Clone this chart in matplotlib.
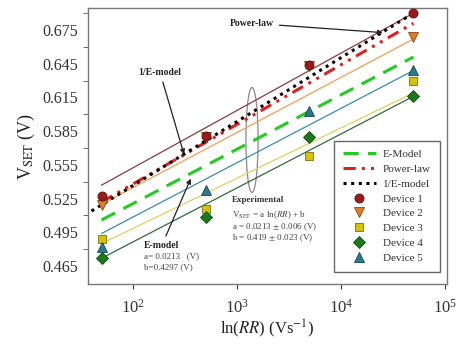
import matplotlib.pyplot as plt
from matplotlib.patches import Ellipse

plt.rcParams['font.family'] = ['Liberation Serif', 'DejaVu Serif']
plt.rcParams['mathtext.fontset'] = 'stix'

# ramp rate (V/s) and measured set voltages
rr = [50, 500, 5000, 50000]
dev1 = [0.527, 0.581, 0.644, 0.690]
dev2 = [0.519, 0.580, 0.643, 0.669]
dev3 = [0.489, 0.516, 0.563, 0.630]
dev4 = [0.472, 0.509, 0.580, 0.616]
dev5 = [0.482, 0.533, 0.603, 0.639]

# linear fits in ln(RR) for each device (end points)
fit_x = [50, 50000]
fit1 = [0.537, 0.690]
fit2 = [0.520, 0.667]
fit3 = [0.485, 0.619]
fit4 = [0.472, 0.616]
fit5 = [0.494, 0.639]

# model curves
emodel_x = [50, 50000]
emodel = [0.506, 0.651]
power_x = [50, 50000]
power = [0.522, 0.681]
inve_x = [40, 50000]
inve = [0.514, 0.690]

fig = plt.figure(figsize=(4.69, 3.46), dpi=100)
ax = fig.add_axes([0.1876, 0.179, 0.7654, 0.798])

ax.plot(fit_x, fit1, color='#8b3a3a', lw=0.9)
ax.plot(fit_x, fit2, color='#f0a050', lw=0.9)
ax.plot(fit_x, fit3, color='#e0d060', lw=0.9)
ax.plot(fit_x, fit4, color='#2e6b3a', lw=0.9)
ax.plot(fit_x, fit5, color='#3a8ab0', lw=0.9)

l1, = ax.plot(emodel_x, emodel, color='#22cc22', lw=2.2, ls=(0, (5, 3)), label='E-Model')
l2, = ax.plot(power_x, power, color='#e02020', lw=2.2, ls=(0, (4, 2, 1, 2, 1, 2)), label='Power-law')
l3, = ax.plot(inve_x, inve, color='black', lw=2.2, ls=(0, (1, 1.5)), label='1/E-model')

ms = 6.5
m1, = ax.plot(rr, dev1, 'o', color='#9b1b1b', mec='#5a0f0f', mew=0.6, ms=ms, ls='none',
              label='Device 1', zorder=4)
m2, = ax.plot(rr, dev2, 'v', color='#e07b28', mec='#8a4a10', mew=0.6, ms=ms, ls='none',
              label='Device 2', zorder=3)
m3, = ax.plot(rr, dev3, 's', color='#d4c400', mec='#7a7010', mew=0.6, ms=ms - 0.5, ls='none',
              label='Device 3', zorder=3)
m4, = ax.plot(rr, dev4, 'D', color='#1a7a1a', mec='#0f4a0f', mew=0.6, ms=ms - 0.5, ls='none',
              label='Device 4', zorder=3)
m5, = ax.plot(rr, dev5, '^', color='#2a7a8a', mec='#15454f', mew=0.6, ms=ms, ls='none',
              label='Device 5', zorder=3)

ax.set_xscale('log')
ax.set_xlim(37, 1.05e5)
ax.set_ylim(0.449, 0.6946)
ax.set_yticks([0.465, 0.495, 0.525, 0.555, 0.585, 0.615, 0.645, 0.675])
ax.set_yticklabels(['0.465', '0.495', '0.525', '0.555', '0.585', '0.615', '0.645', '0.675'])
ax.set_yticks([0.48, 0.51, 0.54, 0.57, 0.60, 0.63, 0.66, 0.69], minor=True)
ax.tick_params(axis='y', which='major', length=0, labelsize=11.5, pad=7, colors='#333333')
ax.tick_params(axis='y', which='minor', length=3.5, direction='out', color='#555555')
ax.tick_params(axis='x', which='major', length=3.5, direction='out', labelsize=12, pad=7,
               colors='#333333')
ax.tick_params(axis='x', which='minor', length=0)
for s in ax.spines.values():
    s.set_color('#777777')
    s.set_linewidth(1.0)

ax.set_ylabel(r'V$_{\rm SET}$ (V)', fontsize=13, labelpad=4, color='#222222')
ax.set_xlabel(r'ln($RR$) (Vs$^{-1}$)', fontsize=12, labelpad=1, color='#222222')

ax.add_patch(Ellipse((0.457, 0.522), 0.034, 0.38, transform=ax.transAxes,
                     fill=False, ec='#888888', lw=0.9))

arrow = dict(arrowstyle='-|>', color='#222222', lw=0.9, mutation_scale=7)
ax.annotate('Power-law', xy=(27000, 0.6725), xytext=(857, 0.681), ha='left', va='center',
            fontsize=7, fontweight='bold', color='#222222', arrowprops=arrow)
ax.annotate('1/E-model', xy=(316, 0.562), xytext=(182, 0.6376), ha='center', va='center',
            fontsize=7, fontweight='bold', color='#222222', arrowprops=arrow)
ax.annotate('E-model', xy=(369, 0.545), xytext=(128, 0.483), ha='left', va='center',
            fontsize=7, fontweight='bold', color='#222222', arrowprops=arrow)
ax.text(128, 0.4735, 'a= 0.0213   (V)', fontsize=6.5, color='#444444', va='center')
ax.text(128, 0.4637, 'b=0.4297 (V)', fontsize=6.5, color='#444444', va='center')

ax.text(895, 0.524, 'Experimental', fontsize=6.5, fontweight='bold', color='#333333', va='center')
ax.text(895, 0.5105, r'V$_{\rm SET}$ = a ln($RR$) + b', fontsize=6.5, color='#444444', va='center')
ax.text(895, 0.4998, r'a = 0.0213 $\pm$ 0.006 (V)', fontsize=6.5, color='#444444', va='center')
ax.text(895, 0.4900, r'b = 0.419 $\pm$ 0.023 (V)', fontsize=6.5, color='#444444', va='center')

leg = ax.legend(handles=[l1, l2, l3, m1, m2, m3, m4, m5], loc='lower right',
                bbox_to_anchor=(0.995, 0.025), fontsize=8, fancybox=False,
                edgecolor='#666666', framealpha=1, labelspacing=0.45, handlelength=3.0,
                borderpad=0.8, handletextpad=0.6)
leg.get_frame().set_linewidth(1.0)
for t in leg.get_texts():
    t.set_color('#333333')

fig.savefig('out.png', dpi=100)
